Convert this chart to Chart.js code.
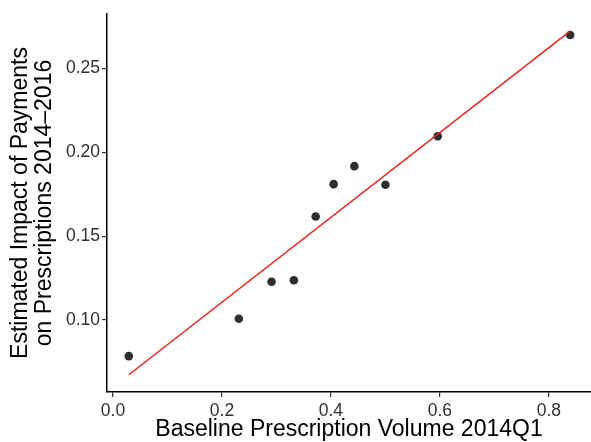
<!DOCTYPE html>
<html>
<head>
<meta charset="utf-8">
<script src="https://cdn.jsdelivr.net/npm/chart.js@4"></script>
<style>
  body { margin: 0; background: #fff; }
  #wrap { width: 591px; height: 442px; }
</style>
</head>
<body>
<div id="wrap"><canvas id="chart" width="591" height="442"></canvas></div>
<script>
// points
var volume = [0.029, 0.231, 0.291, 0.332, 0.372, 0.405, 0.443, 0.500, 0.596, 0.839];
var impact = [0.0785, 0.1008, 0.1228, 0.1237, 0.1617, 0.1810, 0.1917, 0.1806, 0.2095, 0.2699];

// fitted line, endpoints at the data range
var fitX = [0.029, 0.839];
var fitY = [0.0674, 0.2722];

var xTicks = [0.0, 0.2, 0.4, 0.6, 0.8];
var yTicks = [0.10, 0.15, 0.20, 0.25];

var xTitle = 'Baseline Prescription Volume 2014Q1';
var yTitle = ['Estimated Impact of Payments', 'on Prescriptions 2014\u20132016'];

var font = '"Liberation Sans", Arial, Helvetica, sans-serif';

function toPoints(xs, ys) {
    return xs.map(function(x, i) { return {x: x, y: ys[i]}; });
}

var ctx = document.getElementById('chart').getContext('2d');
var chart = new Chart(ctx, {
    type: 'scatter',
    data: {
        datasets: [{
            label: 'fit',
            data: toPoints(fitX, fitY),
            showLine: true,
            borderColor: '#e3241b',
            borderWidth: 1.5,
            pointRadius: 0,
            fill: false
        }, {
            label: 'estimates',
            data: toPoints(volume, impact),
            backgroundColor: '#2e2e2e',
            borderWidth: 0,
            pointRadius: 4.3
        }]
    },
    options: {
        responsive: false,
        animation: false,
        layout: { autoPadding: false, padding: { top: 14, right: 0, left: 0, bottom: 0 } },
        plugins: {
            legend: { display: false },
            tooltip: { enabled: false }
        },
        scales: {
            x: {
                type: 'linear',
                min: -0.011,
                max: 0.8773,
                afterBuildTicks: function(scale) {
                    scale.ticks = xTicks.map(function(v) { return {value: v}; });
                },
                afterFit: function(scale) {
                    scale.height = 50;
                    scale.paddingLeft = 0;
                    scale.paddingRight = 0;
                },
                grid: { drawOnChartArea: false, drawTicks: true, tickLength: 5, color: '#333', lineWidth: 1.2 },
                border: { display: true, color: '#000', width: 1.5 },
                ticks: {
                    padding: 4,
                    color: '#303030',
                    font: { family: font, size: 17.5 },
                    callback: function(v) { return v.toFixed(1); }
                },
                title: {
                    display: true,
                    text: xTitle,
                    color: '#000',
                    font: { family: font, size: 23, lineHeight: 1.03 },
                    padding: { top: 0, bottom: 0 }
                }
            },
            y: {
                type: 'linear',
                min: 0.0571,
                max: 0.2824,
                afterBuildTicks: function(scale) {
                    scale.ticks = yTicks.map(function(v) { return {value: v}; });
                },
                afterFit: function(scale) {
                    scale.width = 107;
                    scale.paddingTop = 0;
                    scale.paddingBottom = 0;
                },
                grid: { drawOnChartArea: false, drawTicks: true, tickLength: 5, color: '#333', lineWidth: 1.2 },
                border: { display: true, color: '#000', width: 1.5 },
                ticks: {
                    padding: 2,
                    color: '#303030',
                    font: { family: font, size: 17.5 },
                    callback: function(v) { return v.toFixed(2); }
                },
                title: {
                    display: true,
                    text: yTitle,
                    color: '#000',
                    font: { family: font, size: 23, lineHeight: 1.03 },
                    padding: { top: 9, bottom: 0 }
                }
            }
        }
    }
});
</script>
</body>
</html>
